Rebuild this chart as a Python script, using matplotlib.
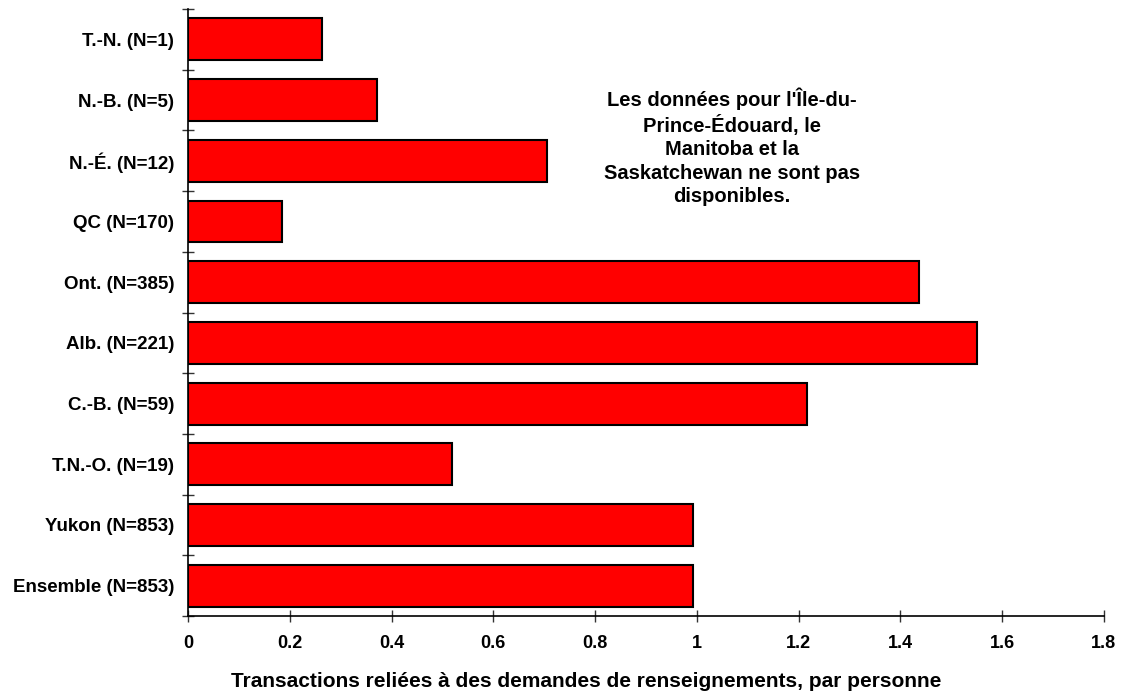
import numpy as np
import matplotlib.pyplot as plt
from matplotlib.ticker import FixedLocator

plt.rcParams['font.family'] = ['Liberation Sans', 'DejaVu Sans']
plt.rcParams['font.weight'] = 'bold'

# data, top to bottom
labels = ['T.-N. (N=1)', 'N.-B. (N=5)', 'N.-É. (N=12)', 'QC (N=170)', 'Ont. (N=385)',
          'Alb. (N=221)', 'C.-B. (N=59)', 'T.N.-O. (N=19)', 'Yukon (N=853)', 'Ensemble (N=853)']
values = [0.263, 0.371, 0.705, 0.185, 1.436, 1.550, 1.216, 0.519, 0.992, 0.992]
xticks = [0, 0.2, 0.4, 0.6, 0.8, 1.0, 1.2, 1.4, 1.6, 1.8]
xticklabels = ['0', '0.2', '0.4', '0.6', '0.8', '1', '1.2', '1.4', '1.6', '1.8']

note = "Les données pour l'Île-du-\nPrince-Édouard, le\nManitoba et la\nSaskatchewan ne sont pas\ndisponibles."

fig = plt.figure(figsize=(11.23, 6.91), dpi=100)
ax = fig.add_axes([0.1674, 0.1085, 0.983 - 0.1674, 0.987 - 0.1085])

y = np.arange(len(labels))
ax.barh(y, values, height=0.69, color='#ff0000', edgecolor='black', linewidth=1.5)

ax.set_xlim(0, 1.8)
ax.set_ylim(len(labels) - 0.5, -0.5)
ax.set_xticks(xticks)
ax.set_xticklabels(xticklabels)

ax.set_yticks(y)
ax.set_yticklabels(labels)
ax.yaxis.set_minor_locator(FixedLocator(np.arange(-0.5, len(labels), 1.0)))
ax.tick_params(axis='y', which='major', length=0, pad=10, labelsize=13.5)
ax.tick_params(axis='y', which='minor', direction='inout', length=9, width=1, color='#333333')
ax.tick_params(axis='x', which='major', direction='inout', length=8, width=1, color='#333333',
               pad=10, labelsize=13)

for s in ['top', 'right']:
    ax.spines[s].set_visible(False)
for s in ['left', 'bottom']:
    ax.spines[s].set_linewidth(1.2)

ax.set_xlabel('Transactions reliées à des demandes de renseignements, par personne',
              fontsize=15, fontweight='bold', labelpad=14)
ax.xaxis.label.set_x(0.4345)

ax.text(1.069, 1.77, note, ha='center', va='center', fontsize=14.5, fontweight='bold',
        linespacing=1.28)

fig.savefig('out.png', dpi=100)
